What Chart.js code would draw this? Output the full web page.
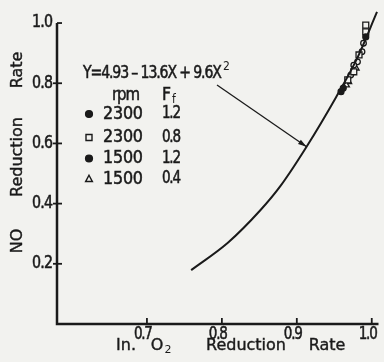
<!DOCTYPE html>
<html><head><meta charset="utf-8">
<script src="https://cdn.jsdelivr.net/npm/chart.js@4.4.1/dist/chart.umd.min.js"></script>
<style>
html,body{margin:0;padding:0;background:#f2f2ef;}
#wrap{width:384px;height:362px;position:relative;}
</style></head>
<body><div id="wrap"><canvas id="c" width="384" height="362"></canvas></div>
<script>
// ---- data ----
const xTicks = [0.7, 0.8, 0.9, 1.0];
const yTicks = [0.2, 0.4, 0.6, 0.8, 1.0];
const curveX = [0.759, 0.808, 0.851, 0.878, 0.913, 0.952, 0.980, 1.007];
const curveY = [0.179, 0.270, 0.377, 0.458, 0.589, 0.752, 0.880, 1.037];
const s1X = [0.992, 0.959, 0.962];            // 2300 rpm, Ff 1.2 (filled circle)
const s1Y = [0.954, 0.772, 0.784];
const s2X = [0.992, 0.992, 0.983, 0.976, 0.968]; // 2300 rpm, Ff 0.8 (square)
const s2Y = [0.993, 0.971, 0.894, 0.838, 0.811];
const s3X = [0.989, 0.987, 0.981, 0.976, 0.972]; // 1500 rpm, Ff 1.2 (circle)
const s3Y = [0.933, 0.905, 0.871, 0.860, 0.827];
const s4X = [0.969, 0.966, 0.979];            // 1500 rpm, Ff 0.4 (triangle)
const s4Y = [0.805, 0.794, 0.850];
const rpmLabels = ["2300", "2300", "1500", "1500"];
const ffLabels = ["1.2", "0.8", "1.2", "0.4"];
const equation = "Y=4.93 – 13.6X + 9.6X";

const INK = '#1a1a1a';
const BG = '#f2f2ef';
const FAM = '"DejaVu Sans Condensed", "DejaVu Sans", sans-serif';
const F17 = '17px ' + FAM, F18 = '18px ' + FAM;
const SMALLF = '12px ' + FAM;
const TITF = '16px "DejaVu Sans", sans-serif';
const pts = (xs, ys) => xs.map((x, i) => ({x, y: ys[i]}));

// draw text fitted to a visible width: horizontal condensing + letter spacing, slightly emboldened
function fitText(ctx, text, left, y, w, minSx) {
  ctx.save();
  ctx.textAlign = 'left';
  const hasLS = 'letterSpacing' in ctx;
  if (hasLS) ctx.letterSpacing = '0px';
  const nat = ctx.measureText(text).width;
  const n = [...text].length;
  let sx = Math.min(1.05, Math.max(minSx || 0.92, Math.sqrt(w / nat)));
  if (!hasLS || n < 2) sx = w / nat;
  ctx.translate(left, y); ctx.scale(sx, 1);
  if (hasLS && n > 1) ctx.letterSpacing = ((w / sx - nat) / (n - 1)).toFixed(2) + 'px';
  ctx.fillText(text, 0, 0);
  ctx.lineWidth = 0.5; ctx.strokeText(text, 0, 0);
  ctx.restore();
}
function boldText(ctx, text, x, y) {
  ctx.fillText(text, x, y);
  ctx.save(); ctx.lineWidth = 0.4; ctx.strokeText(text, x, y); ctx.restore();
}

function marker(ctx, style, x, y, r, fill) {
  ctx.save();
  ctx.lineWidth = 1.4; ctx.strokeStyle = INK; ctx.fillStyle = fill ? INK : BG;
  ctx.beginPath();
  if (style === 'circle') ctx.arc(x, y, r, 0, Math.PI * 2);
  else if (style === 'rect') ctx.rect(x - r, y - r, 2 * r, 2 * r);
  else if (style === 'triangle') { ctx.moveTo(x, y - r * 1.1); ctx.lineTo(x + r, y + r * 0.75); ctx.lineTo(x - r, y + r * 0.75); ctx.closePath(); }
  ctx.fill(); ctx.stroke();
  ctx.restore();
}

const decor = {
  id: 'decor',
  afterDraw(chart) {
    const {ctx, chartArea: a, scales: {x, y}} = chart;
    ctx.save();
    ctx.strokeStyle = INK; ctx.fillStyle = INK;
    // axes
    const yTop = y.getPixelForValue(1.0);
    ctx.lineWidth = 2.5;
    ctx.beginPath(); ctx.moveTo(a.left, yTop); ctx.lineTo(a.left, a.bottom); ctx.lineTo(a.right, a.bottom); ctx.stroke();
    ctx.lineWidth = 1.8;
    yTicks.forEach(v => { const py = y.getPixelForValue(v); ctx.beginPath(); ctx.moveTo(v === 1.0 ? a.left : a.left - 4, py); ctx.lineTo(a.left + 5, py); ctx.stroke(); });
    xTicks.forEach(v => { const px = x.getPixelForValue(v); ctx.beginPath(); ctx.moveTo(px, a.bottom); ctx.lineTo(px, a.bottom - 6); ctx.stroke(); });
    // tick labels
    ctx.font = F17; ctx.textBaseline = 'middle';
    yTicks.forEach(v => fitText(ctx, v.toFixed(1), a.left - 25, y.getPixelForValue(v), 21, 0.8));
    xTicks.forEach(v => fitText(ctx, v.toFixed(1), x.getPixelForValue(v) - 13, a.bottom + 11, 19, 0.8));
    // x title
    ctx.font = TITF; ctx.textAlign = 'center'; ctx.textBaseline = 'middle';
    boldText(ctx, 'In.', 126, 346);
    boldText(ctx, 'O', 157, 346);
    ctx.font = '11px "DejaVu Sans", sans-serif'; ctx.fillText('2', 168, 350);
    ctx.font = TITF;
    boldText(ctx, 'Reduction', 246, 346);
    boldText(ctx, 'Rate', 327, 346);
    // y title
    ctx.save(); ctx.translate(18, 0); ctx.rotate(-Math.PI / 2);
    boldText(ctx, 'Rate', -70, 0);
    boldText(ctx, 'Reduction', -157, 0);
    boldText(ctx, 'NO', -241, 0);
    ctx.restore();
    // equation
    ctx.font = F17;
    fitText(ctx, equation, 83, 74, 139);
    ctx.font = SMALLF; ctx.textAlign = 'left';
    ctx.fillText('2', 223, 67);
    // arrow
    const x0 = 217, y0 = 85, x1 = x.getPixelForValue(0.913), y1 = y.getPixelForValue(0.589);
    ctx.lineWidth = 1.3;
    ctx.beginPath(); ctx.moveTo(x0, y0); ctx.lineTo(x1, y1); ctx.stroke();
    const ang = Math.atan2(y1 - y0, x1 - x0);
    ctx.beginPath(); ctx.moveTo(x1, y1);
    ctx.lineTo(x1 - 9 * Math.cos(ang - 0.28), y1 - 9 * Math.sin(ang - 0.28));
    ctx.lineTo(x1 - 9 * Math.cos(ang + 0.28), y1 - 9 * Math.sin(ang + 0.28));
    ctx.closePath(); ctx.fill();
    // legend
    ctx.font = F18; ctx.textBaseline = 'middle';
    fitText(ctx, 'rpm', 112, 95, 28);
    fitText(ctx, 'F', 162, 95, 9);
    ctx.font = SMALLF; ctx.textAlign = 'left';
    ctx.fillText('f', 172, 100);
    const rows = [114, 137.5, 158.5, 179];
    const styles = [['circle', true], ['rect', false], ['circle', true], ['triangle', false]];
    rows.forEach((ry, i) => {
      marker(ctx, styles[i][0], 89, ry, styles[i][0] === 'rect' ? 3 : 3.4, styles[i][1]);
      ctx.font = F18;
      fitText(ctx, rpmLabels[i], 103, ry, 40);
      ctx.font = F17;
      fitText(ctx, ffLabels[i], 162, ry, 19, 0.78);
    });
    ctx.restore();
  }
};

new Chart(document.getElementById('c'), {
  type: 'line',
  data: {
    datasets: [
      {data: pts(curveX, curveY), borderColor: INK, borderWidth: 2, pointRadius: 0, cubicInterpolationMode: 'monotone', fill: false},
      {data: pts(s1X, s1Y), showLine: false, pointStyle: 'circle', pointRadius: 3, pointBackgroundColor: INK, pointBorderColor: INK, pointBorderWidth: 1.2},
      {data: pts(s2X, s2Y), showLine: false, pointStyle: 'rect', pointRadius: 4.2, pointBackgroundColor: BG, pointBorderColor: INK, pointBorderWidth: 1.3},
      {data: pts(s3X, s3Y), showLine: false, pointStyle: 'circle', pointRadius: 2.8, pointBackgroundColor: BG, pointBorderColor: INK, pointBorderWidth: 1.3},
      {data: pts(s4X, s4Y), showLine: false, pointStyle: 'triangle', pointRadius: 3.6, pointBackgroundColor: BG, pointBorderColor: INK, pointBorderWidth: 1.3}
    ]
  },
  options: {
    responsive: false, animation: false,
    layout: {padding: {left: 57, right: 0, top: 8, bottom: 38}},
    scales: {
      x: {type: 'linear', min: 0.58, max: 1.009, display: false},
      y: {type: 'linear', min: 0, max: 1.05, display: false}
    },
    plugins: {legend: {display: false}, tooltip: {enabled: false}}
  },
  plugins: [decor]
});
</script></body></html>
